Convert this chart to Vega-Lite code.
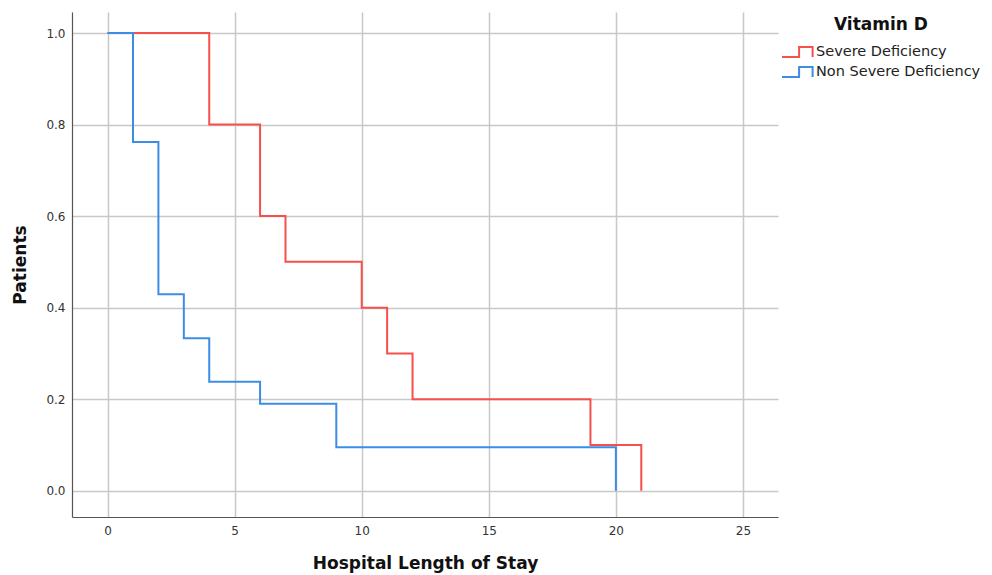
{
  "$schema": "https://vega.github.io/schema/vega-lite/v6.json",
  "width": 706,
  "height": 505,
  "autosize": {"type": "none"},
  "padding": {"left": 72, "top": 12, "right": 214, "bottom": 58},
  "background": "white",
  "config": {
    "view": {"stroke": null},
    "font": "DejaVu Sans"
  },
  "data": {
    "values": [
      {"group": "Severe Deficiency", "stay": 0, "patients": 1.0},
      {"group": "Severe Deficiency", "stay": 4, "patients": 0.8},
      {"group": "Severe Deficiency", "stay": 6, "patients": 0.6},
      {"group": "Severe Deficiency", "stay": 7, "patients": 0.5},
      {"group": "Severe Deficiency", "stay": 10, "patients": 0.4},
      {"group": "Severe Deficiency", "stay": 11, "patients": 0.3},
      {"group": "Severe Deficiency", "stay": 12, "patients": 0.2},
      {"group": "Severe Deficiency", "stay": 19, "patients": 0.1},
      {"group": "Severe Deficiency", "stay": 21, "patients": 0.0},
      {"group": "Non Severe Deficiency", "stay": 0, "patients": 1.0},
      {"group": "Non Severe Deficiency", "stay": 1, "patients": 0.762},
      {"group": "Non Severe Deficiency", "stay": 2, "patients": 0.429},
      {"group": "Non Severe Deficiency", "stay": 3, "patients": 0.333},
      {"group": "Non Severe Deficiency", "stay": 4, "patients": 0.238},
      {"group": "Non Severe Deficiency", "stay": 6, "patients": 0.19},
      {"group": "Non Severe Deficiency", "stay": 9, "patients": 0.095},
      {"group": "Non Severe Deficiency", "stay": 20, "patients": 0.0}
    ]
  },
  "mark": {"type": "line", "interpolate": "step-after", "strokeWidth": 2},
  "encoding": {
    "x": {
      "field": "stay", "type": "quantitative",
      "scale": {"domain": [-1.4, 26.38], "nice": false, "zero": false},
      "axis": {
        "title": "Hospital Length of Stay",
        "values": [0, 5, 10, 15, 20, 25],
        "grid": true, "gridColor": "#c8c8c8", "gridWidth": 1.5,
        "ticks": false, "domainColor": "#555555", "domainWidth": 1.2,
        "labelFont": "DejaVu Sans", "labelFontSize": 12, "labelColor": "#333333", "labelPadding": 8,
        "titleFont": "DejaVu Sans", "titleFontSize": 17, "titleFontWeight": "bold", "titleColor": "#111111",
        "titlePadding": 19
      }
    },
    "y": {
      "field": "patients", "type": "quantitative",
      "scale": {"domain": [-0.0575, 1.046], "nice": false, "zero": false},
      "axis": {
        "title": "Patients",
        "values": [0, 0.2, 0.4, 0.6, 0.8, 1.0],
        "format": ".1f",
        "grid": true, "gridColor": "#c8c8c8", "gridWidth": 1.5,
        "ticks": false, "domainColor": "#555555", "domainWidth": 1.2,
        "labelFont": "DejaVu Sans", "labelFontSize": 12, "labelColor": "#333333", "labelPadding": 7,
        "titleFont": "DejaVu Sans", "titleFontSize": 17, "titleFontWeight": "bold", "titleColor": "#111111",
        "titlePadding": 16
      }
    },
    "color": {
      "field": "group", "type": "nominal",
      "scale": {"domain": ["Severe Deficiency", "Non Severe Deficiency"], "range": ["#f5504c", "#3d8ce6"]},
      "legend": {
        "title": "Vitamin D",
        "orient": "none",
        "legendX": 709,
        "legendY": 5,
        "titleFont": "DejaVu Sans", "titleFontSize": 17, "titleFontWeight": "bold", "titleColor": "#111111",
        "titleAnchor": "middle", "titlePadding": 8,
        "labelFont": "DejaVu Sans", "labelFontSize": 14.5, "labelColor": "#222222", "labelOffset": 15,
        "labelLimit": 300,
        "symbolType": "M-1,0.55 L0.9,0.55 L0.9,-0.55 L2.4,-0.55 L2.4,0.55",
        "symbolSize": 324, "symbolStrokeWidth": 2, "symbolFillColor": "transparent",
        "rowPadding": 1
      }
    },
    "order": {"field": "group", "sort": "descending"}
  }
}
